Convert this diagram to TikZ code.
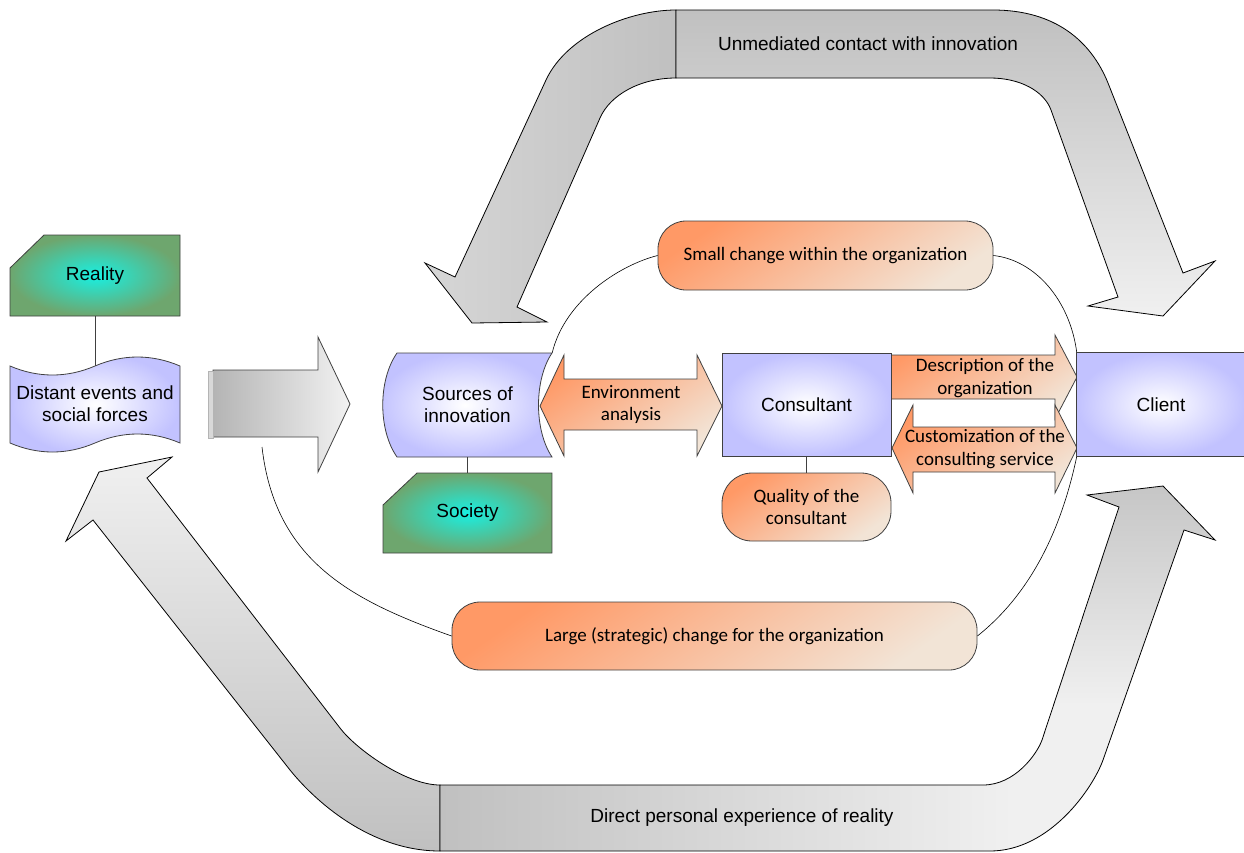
\documentclass[tikz,border=0pt]{standalone}
\usepackage{fontspec}
\setmainfont{Liberation Sans}
\newfontfamily\calfont{Carlito}
\definecolor{lavO}{HTML}{C2C2FF}
\definecolor{cyanC}{HTML}{18F0E2}
\definecolor{greenO}{HTML}{6EA66E}
\definecolor{orD}{HTML}{FF9966}
\definecolor{orM}{HTML}{FBA273}
\definecolor{orL}{HTML}{F2E4D6}
\definecolor{bandD}{HTML}{C0C0C0}
\definecolor{bandH}{HTML}{C6C6C6}
\definecolor{bandM}{HTML}{D6D6D6}
\definecolor{bandL}{HTML}{F0F0F0}
\definecolor{arrD}{HTML}{B4B4B4}
\definecolor{arrL}{HTML}{F2F2F2}
\definecolor{barC}{HTML}{D8D8D8}
\definecolor{edge}{HTML}{404040}
\pgfdeclarehorizontalshading{bandHoriz}{100bp}{color(0bp)=(bandD); color(25bp)=(bandD); color(62bp)=(bandL); color(100bp)=(bandL)}
\pgfdeclareverticalshading{bandVert}{100bp}{color(0bp)=(bandL); color(35bp)=(bandL); color(75bp)=(bandH); color(100bp)=(bandH)}
\begin{document}
\begin{tikzpicture}[x=1pt,y=-1pt,
  lav/.style={shade, inner color=white, outer color=lavO, draw=edge, line width=0.8pt},
  grn/.style={shade, inner color=cyanC, outer color=greenO, draw=edge, line width=0.8pt},
  orng/.style={shade, top color=orD, middle color=orM, bottom color=orL, shading angle=35, draw=edge, line width=0.8pt},
  lbl/.style={inner sep=0pt, align=center, font=\fontsize{19}{22}\selectfont},
  clbl/.style={inner sep=0pt, align=center, font=\calfont\fontsize{19}{22.5}\selectfont},
  link/.style={draw=edge, line width=0.8pt},
  thinline/.style={draw=black, line width=0.6pt},
  band/.style={draw=black, line width=0.8pt}]
\useasboundingbox (0,0) rectangle (1244,852);

% ---------- top band ----------
\path[band, shade, left color=bandM, right color=bandD]
  (676,10) .. controls (630,10) and (567,35) .. (546,80)
  -- (455,277) -- (425,263) -- (472,323) -- (547,322) -- (517,307)
  -- (600,118) .. controls (610,95) and (640,78) .. (676,78) -- cycle;
\path[band, shade, top color=bandD, bottom color=bandL]
  (676,10) -- (993,10) .. controls (1055,10) and (1091,41) .. (1108,83)
  -- (1183,273) -- (1215,261) -- (1163,316) -- (1088,306) -- (1118,297)
  -- (1051,110) .. controls (1044,91) and (1020,78) .. (990,78) -- (676,78) -- cycle;
\node[lbl] (topband) at (868,44) {Unmediated contact with innovation};

% ---------- bottom band ----------
\path[band, shade, top color=bandL, bottom color=bandD]
  (440,785) .. controls (405,785) and (355,748) .. (340,728)
  -- (147,478) -- (172,457) -- (99,472) -- (66,541) -- (93,520)
  -- (290,770) .. controls (315,801) and (370,851) .. (440,851) -- cycle;
\path[shading=bandHoriz]
  (440,785) -- (983,785) .. controls (1015,785) and (1037,754) .. (1042,740)
  -- (1119,507) -- (1087,495) -- (1163,486) -- (1215,540) -- (1184,530)
  -- (1103,760) .. controls (1093,788) and (1050,851) .. (990,851) -- (440,851) -- cycle;
\path[shading=bandVert]
  (1042,740) -- (1119,507) -- (1087,495) -- (1163,486) -- (1215,540) -- (1184,530)
  -- (1103,760) -- cycle;
\path[band]
  (440,785) -- (983,785) .. controls (1015,785) and (1037,754) .. (1042,740)
  -- (1119,507) -- (1087,495) -- (1163,486) -- (1215,540) -- (1184,530)
  -- (1103,760) .. controls (1093,788) and (1050,851) .. (990,851) -- (440,851) -- cycle;
\node[lbl] (botband) at (742,818) {Direct personal experience of reality};

% ---------- text nodes (positions of shapes) ----------
\node[lbl, minimum width=170, minimum height=81] (real) at (95,275.5) {};
\node[lbl, minimum width=170, minimum height=76] (dist) at (95,404) {};
\node[lbl, minimum width=169, minimum height=104] (src) at (467.5,405) {};
\node[lbl, minimum width=169, minimum height=80] (soc) at (467.5,513) {};
\node[clbl, minimum width=182, minimum height=103] (env) at (631,404.5) {};
\coordinate (lstart) at (262,447);

% ---------- thin curves ----------
\node[clbl, orng, rounded corners=28, minimum width=335, minimum height=69] (small) at (825.5,255.5) {Small change within the organization};
\node[clbl, orng, rounded corners=28, minimum width=525, minimum height=68] (large) at (714.5,636) {Large (strategic) change for the organization};
\node[lbl, minimum width=168, minimum height=103] (client) at (1161,404.5) {};
\path[thinline] (small.west) .. controls (620,265) and (565,300) .. (src.north east);
\path[thinline] (small.east) .. controls (1035,260) and (1070,300) .. (client.north west);
\path[thinline] (lstart) .. controls (275,560) and (350,600) .. (large.west);
\path[thinline] (large.east) .. controls (1010,610) and (1055,560) .. (client.south west);

% ---------- gray arrow ----------
\path[draw=edge, line width=0.8pt, shade, left color=arrD, right color=arrL]
  (213,370) -- (318,370) -- (318,337) -- (350,404) -- (318,472) -- (318,437) -- (213,437) -- cycle;
\path[fill=barC, draw=arrD, line width=0.5pt] (208,371) rectangle (213,438);

% ---------- shapes ----------
\path[grn] (44,235) -- (180,235) -- (180,316) -- (10,316) -- (10,268) -- cycle;
\path[lav] (10,366) .. controls (38,378) and (67,378) .. (95,366)
  .. controls (123,354) and (152,354) .. (180,366) -- (180,443)
  .. controls (152,431) and (123,431) .. (95,443)
  .. controls (67,455) and (38,455) .. (10,443) -- cycle;
\path[link] (real.south) -- (dist.north);
\path[lav] (397,353) -- (552,353) .. controls (534,380) and (534,430) .. (552,457)
  -- (397,457) .. controls (378,430) and (378,380) .. (397,353) -- cycle;
\path[grn] (417,473) -- (552,473) -- (552,553) -- (383,553) -- (383,505) -- cycle;
\path[link] (src.south) -- (soc.north);
\path[orng] (540,406) -- (564,355) -- (564,379) -- (697,379) -- (697,355) -- (722,406)
  -- (697,456) -- (697,430) -- (564,430) -- (564,456) -- cycle;
\path[orng] (891,355) -- (1055,355) -- (1055,335) -- (1077,377) -- (1055,419) -- (1055,399) -- (891,399) -- cycle;
\path[orng] (892,448) -- (913,405) -- (913,427) -- (1055,427) -- (1055,405) -- (1077,448)
  -- (1055,493) -- (1055,472) -- (913,472) -- (913,493) -- cycle;
\node[lbl, lav, minimum width=169, minimum height=103] (cons) at (806.5,404.5) {Consultant};
\path[lav] (client.north west) rectangle (client.south east);
\node[clbl, orng, rounded corners=30, minimum width=169, minimum height=68] (qual) at (806.5,507) {Quality of the\\consultant};
\path[link] (cons.south) -- (qual.north);

% ---------- labels ----------
\node[lbl] at (real) {Reality};
\node[lbl] at (dist) {Distant events and\\social forces};
\node[lbl] at (src) {Sources of\\innovation};
\node[lbl] at (soc) {Society};
\node[clbl] at (env) {Environment\\analysis};
\node[clbl] (desc) at (985,378) {Description of the\\organization};
\node[clbl] (cust) at (985,449) {Customization of the\\consulting service};
\node[lbl] at (client) {Client};
\end{tikzpicture}
\end{document}
